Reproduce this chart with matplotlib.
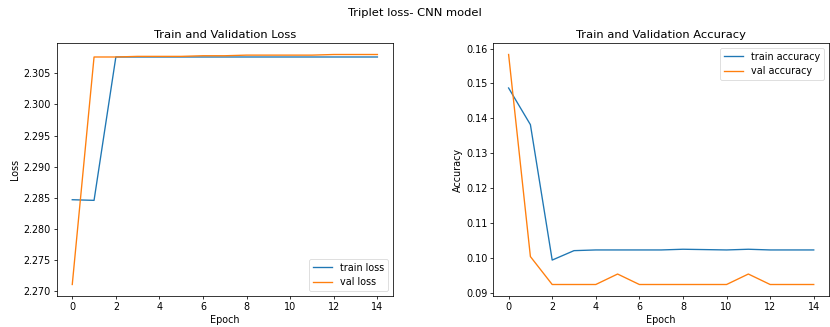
import matplotlib
matplotlib.use("Agg")
import matplotlib.pyplot as plt

epochs = list(range(15))
train_loss = [2.2847, 2.2846, 2.3076, 2.3076, 2.3076, 2.3076, 2.3076, 2.3076,
              2.3076, 2.3076, 2.3076, 2.3076, 2.3076, 2.3076, 2.3076]
val_loss = [2.2711, 2.3076, 2.3076, 2.3077, 2.3077, 2.3077, 2.3078, 2.3078,
            2.3079, 2.3079, 2.3079, 2.3079, 2.3080, 2.3080, 2.3080]
train_acc = [0.1487, 0.1382, 0.0994, 0.1021, 0.1023, 0.1023, 0.1023, 0.1023,
             0.1025, 0.1024, 0.1023, 0.1025, 0.1023, 0.1023, 0.1023]
val_acc = [0.1583, 0.1004, 0.0924, 0.0924, 0.0924, 0.0954, 0.0924, 0.0924,
           0.0924, 0.0924, 0.0924, 0.0954, 0.0924, 0.0924, 0.0924]

# scale everything up a bit, the reference looks like a downscaled bigger figure
s = 1.25
plt.rcParams.update({
    "font.size": 10 * s,
    "lines.linewidth": 1.4 * s,
    "axes.linewidth": 0.8 * s,
    "xtick.major.width": 0.8 * s,
    "ytick.major.width": 0.8 * s,
    "xtick.major.size": 3.5 * s,
    "ytick.major.size": 3.5 * s,
})

dpi = 830 / 15
fig, (ax1, ax2) = plt.subplots(1, 2, figsize=(15, 327 / dpi), dpi=dpi)
fig.suptitle("Triplet loss- CNN model", y=0.975)

# loss
ax1.plot(epochs, train_loss, label="train loss")
ax1.plot(epochs, val_loss, label="val loss")
ax1.set_title("Train and Validation Loss")
ax1.set_xlabel("Epoch")
ax1.set_ylabel("Loss")
ax1.legend(loc="lower right")

# accuracy
ax2.plot(epochs, train_acc, label="train accuracy")
ax2.plot(epochs, val_acc, label="val accuracy")
ax2.set_title("Train and Validation Accuracy")
ax2.set_xlabel("Epoch")
ax2.set_ylabel("Accuracy")
ax2.legend(loc="upper right")

fig.subplots_adjust(left=57 / 830, right=829 / 830, top=1 - 43 / 327,
                    bottom=1 - 296 / 327, wspace=0.30)
plt.savefig("out.png", dpi=dpi)
